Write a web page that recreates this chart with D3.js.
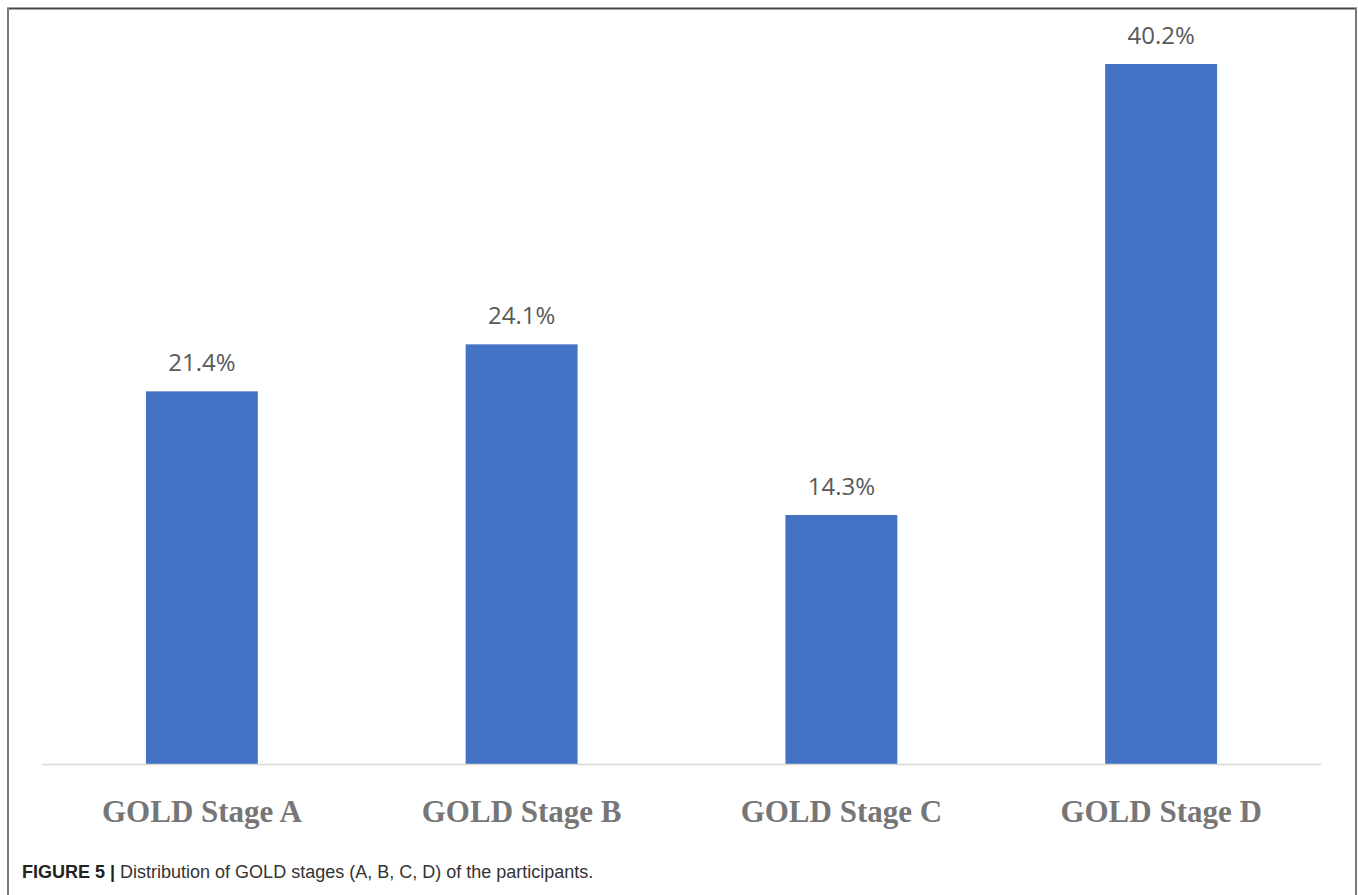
<!DOCTYPE html>
<html>
<head>
<meta charset="utf-8">
<script src="https://cdn.jsdelivr.net/npm/d3@7"></script>
<style>
  html, body { margin: 0; padding: 0; background: #fff; }
  svg { display: block; }
</style>
</head>
<body>
<svg id="chart" width="1358" height="895"></svg>
<script>
// GOLD stage distribution (% of participants)
const categories = ["GOLD Stage A", "GOLD Stage B", "GOLD Stage C", "GOLD Stage D"];
const shares = [21.4, 24.1, 14.3, 40.2];
const valueLabels = ["21.4%", "24.1%", "14.3%", "40.2%"];
const captionBold = "FIGURE 5 |";
const captionText = " Distribution of GOLD stages (A, B, C, D) of the participants.";

const svg = d3.select("#chart");
const W = 1358, H = 895;

// figure frame
svg.append("line").attr("x1", 7).attr("x2", 1357).attr("y1", 8.5).attr("y2", 8.5)
  .attr("stroke", "#4a4a4a").attr("stroke-width", 2);
svg.append("line").attr("x1", 8).attr("x2", 8).attr("y1", 8).attr("y2", H)
  .attr("stroke", "#7a7a7a").attr("stroke-width", 2);
svg.append("line").attr("x1", 1356).attr("x2", 1356).attr("y1", 8).attr("y2", H)
  .attr("stroke", "#7a7a7a").attr("stroke-width", 2);

const plotLeft = 42, plotRight = 1321, baseline = 764;

const x = d3.scaleBand()
  .domain(categories)
  .range([plotLeft, plotRight])
  .paddingInner(0.65)
  .paddingOuter(0.325);

const y = d3.scaleLinear()
  .domain([0, 40.2])
  .range([baseline, 64]);

const data = categories.map((c, i) => ({ c, v: shares[i], label: valueLabels[i] }));

// bars
svg.append("g").selectAll("rect")
  .data(data)
  .join("rect")
  .attr("x", d => x(d.c))
  .attr("y", d => y(d.v))
  .attr("width", x.bandwidth())
  .attr("height", d => y(0) - y(d.v))
  .attr("fill", "#4472c4");

// category axis
const xAxis = svg.append("g")
  .attr("transform", `translate(0,${baseline})`)
  .call(d3.axisBottom(x).tickSize(0).tickPadding(0).tickSizeOuter(0));
xAxis.select(".domain").attr("stroke", "#d9d9d9").attr("stroke-width", 1.5)
  .attr("d", `M${plotLeft},0.5H${plotRight}`);
xAxis.selectAll(".tick text")
  .attr("dy", 0)
  .attr("y", 58)
  .attr("font-family", "'Liberation Serif', 'Times New Roman', serif")
  .attr("font-weight", "bold")
  .attr("font-size", 31)
  .attr("fill", "#767676");

// value labels
svg.append("g").selectAll("text")
  .data(data)
  .join("text")
  .attr("x", d => x(d.c) + x.bandwidth() / 2)
  .attr("y", d => y(d.v) - 20)
  .attr("text-anchor", "middle")
  .attr("font-family", "'Open Sans', sans-serif")
  .attr("font-size", 24)
  .attr("fill", "#595959")
  .text(d => d.label);

// caption
const cap = svg.append("text")
  .attr("x", 22)
  .attr("y", 878)
  .attr("font-family", "'Liberation Sans', Arial, sans-serif")
  .attr("font-size", 18)
  .attr("fill", "#333");
cap.append("tspan").attr("font-weight", "bold").attr("fill", "#222").text(captionBold);
cap.append("tspan").text(captionText);
</script>
</body>
</html>
